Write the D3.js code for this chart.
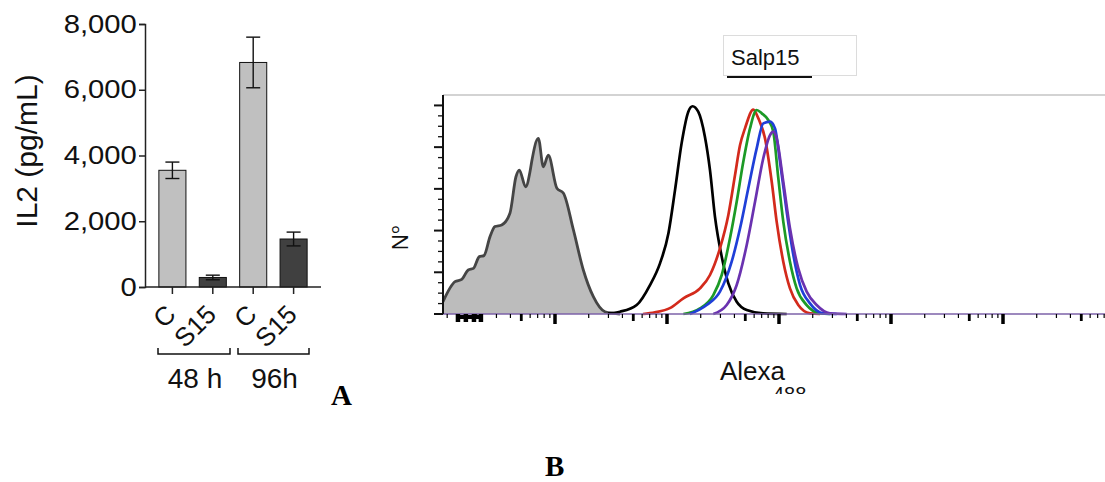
<!DOCTYPE html>
<html>
<head>
<meta charset="utf-8">
<script src="https://cdn.jsdelivr.net/npm/d3@7"></script>
<style>
  body { margin: 0; background: #fff; }
  svg { display: block; font-family: "Liberation Sans", Arial, sans-serif; }
</style>
</head>
<body>
<script>
// Panel A data
const barLabels = ["C", "S15", "C", "S15"];
const barMeans = [3550, 290, 6830, 1460];
const barErrs = [250, 70, 770, 210];
const barFills = ["#c0c0c0", "#404040", "#c0c0c0", "#404040"];
const groupLabels = ["48 h", "96h"];
const yTicksA = [0, 2000, 4000, 6000, 8000];

// Panel B data: [intensity, % of max]
const grayHist = [[1.0, 5.9], [1.28, 15.5], [1.47, 16.6], [1.68, 21.1], [1.87, 21.9], [2.11, 27.5],
  [2.32, 28.0], [2.63, 37.1], [2.91, 41.9], [3.34, 42.7], [3.96, 48.3], [4.48, 65.8], [4.80, 69.0],
  [5.47, 61.0], [5.98, 68.2], [6.19, 73.0], [7.10, 84.2], [7.87, 70.6], [8.71, 76.2], [10.4, 60.3],
  [11.9, 57.9], [14.6, 40.3], [17.9, 21.1], [22.0, 8.3], [27.9, 1.1], [33.2, 0.3], [38.0, 0]];
const blackHist = [[29.7, 0.3], [38, 1.1], [53.6, 4.3], [70.5, 13.9], [86.6, 24.3], [103, 38.7],
  [118, 59.5], [135, 81.8], [155, 97.0], [169, 99.6], [190, 97.0], [218, 85.0], [242, 69.0],
  [268, 46.7], [308, 27.5], [353, 14.7], [419, 5.9], [515, 1.9], [720, 0.3], [1172, 0]];
const redHist = [[61, 0], [78, 0.8], [106, 2.8], [140, 7.5], [197, 12.3], [242, 18.7], [297, 31.5],
  [353, 47.5], [405, 66.6], [449, 81.0], [497, 89.0], [590, 98.0], [654, 93.8], [750, 84.2],
  [861, 63.4], [953, 44.3], [1092, 25.1], [1253, 12.3], [1486, 4.3], [1891, 0.3], [2323, 0]];
const greenHist = [[140, 0], [197, 2.7], [259, 9.1], [308, 18.7], [365, 36.3], [419, 53.8],
  [480, 73.0], [551, 89.0], [632, 97.8], [701, 96.2], [802, 93.0], [889, 87.4], [986, 65.1],
  [1092, 44.3], [1253, 25.1], [1438, 12.3], [1766, 4.3], [2323, 0.3], [2852, 0]];
const blueHist = [[160, 0], [226, 4.3], [297, 10.7], [378, 25.1], [449, 41.1], [532, 60.3],
  [632, 79.4], [724, 91.4], [832, 92.2], [921, 89.0], [1021, 73.0], [1172, 49.0], [1343, 28.3],
  [1542, 13.9], [1891, 5.1], [2489, 0.3], [3275, 0]];
const purpleHist = [[259, 0], [341, 4.3], [419, 13.9], [515, 33.1], [611, 53.8], [724, 74.7],
  [832, 85.8], [889, 87.4], [953, 84.2], [1092, 63.4], [1253, 41.1], [1486, 21.9], [1766, 10.7],
  [2168, 4.3], [2852, 0.3], [4027, 0]];
const curveColors = ["#d32a1c", "#1c9a26", "#1f3fd8", "#6a32b0"];
const legendLabel = "Salp15";
const denseTicks = [1.09, 1.36, 1.6, 1.89, 2.18];

const svg = d3.select("body").append("svg")
  .attr("width", 1105).attr("height", 482);

// ---------- Panel A: bar chart ----------
const yA = d3.scaleLinear().domain([0, 8000]).range([287, 24]);
const xA = d3.scaleBand().domain(d3.range(4)).range([152, 314])
  .paddingInner(0.33).paddingOuter(0.17);

const gA = svg.append("g");

gA.selectAll("rect.bar").data(barMeans).enter().append("rect")
  .attr("class", "bar")
  .attr("x", (d, i) => xA(i))
  .attr("width", xA.bandwidth())
  .attr("y", d => yA(d))
  .attr("height", d => yA(0) - yA(d))
  .attr("fill", (d, i) => barFills[i])
  .attr("stroke", "#111").attr("stroke-width", 1);

// error bars
const err = gA.selectAll("g.err").data(barMeans).enter().append("g")
  .attr("class", "err")
  .attr("transform", (d, i) => `translate(${xA(i) + xA.bandwidth() / 2},0)`)
  .attr("stroke", "#111").attr("stroke-width", 1.4);
err.append("line").attr("y1", (d, i) => yA(d - barErrs[i])).attr("y2", (d, i) => yA(d + barErrs[i]));
err.append("line").attr("x1", -7).attr("x2", 7)
  .attr("y1", (d, i) => yA(d + barErrs[i])).attr("y2", (d, i) => yA(d + barErrs[i]));
err.append("line").attr("x1", -7).attr("x2", 7)
  .attr("y1", (d, i) => yA(d - barErrs[i])).attr("y2", (d, i) => yA(d - barErrs[i]));

// y axis
const yAxisA = gA.append("g").attr("transform", "translate(145,0)")
  .call(d3.axisLeft(yA).tickValues(yTicksA).tickFormat(d3.format(",")).tickSize(6).tickPadding(1));
yAxisA.select(".domain").attr("stroke", "#222").attr("stroke-width", 1.5);
yAxisA.selectAll(".tick line").attr("stroke", "#222").attr("stroke-width", 1.5);
yAxisA.selectAll(".tick text")
  .attr("font-size", 25).attr("fill", "#111")
  .attr("font-family", "Liberation Sans, Arial, sans-serif")
  .attr("transform", "scale(1.17,1)");

// x axis
const xAxisLine = gA.append("g").attr("stroke", "#222").attr("stroke-width", 1.5);
xAxisLine.append("line").attr("x1", 145).attr("x2", 321).attr("y1", yA(0)).attr("y2", yA(0));
xAxisLine.selectAll("line.tk").data(barLabels).enter().append("line")
  .attr("class", "tk")
  .attr("x1", (d, i) => xA(i) + xA.bandwidth() / 2)
  .attr("x2", (d, i) => xA(i) + xA.bandwidth() / 2)
  .attr("y1", yA(0)).attr("y2", yA(0) + 7);

gA.selectAll("text.xl").data(barLabels).enter().append("text")
  .attr("class", "xl")
  .attr("text-anchor", "end")
  .attr("font-size", 26).attr("fill", "#111")
  .attr("transform", (d, i) => `translate(${xA(i) + xA.bandwidth() / 2 + 5},316) rotate(-45)`)
  .text(d => d);

// group brackets
const brackets = [[158, 230], [238, 309]];
const br = gA.selectAll("g.br").data(brackets).enter().append("g")
  .attr("class", "br").attr("stroke", "#111").attr("stroke-width", 1.5).attr("fill", "none");
br.append("path").attr("d", d => `M${d[0]},348V354H${d[1]}V348`);
gA.selectAll("text.gl").data(groupLabels).enter().append("text")
  .attr("class", "gl")
  .attr("x", (d, i) => (brackets[i][0] + brackets[i][1]) / 2 + 1)
  .attr("y", 388)
  .attr("text-anchor", "middle")
  .attr("font-size", 28).attr("fill", "#111")
  .text(d => d);

// y label
gA.append("text")
  .attr("transform", "translate(37,151) rotate(-90)")
  .attr("text-anchor", "middle")
  .attr("font-size", 30).attr("fill", "#111")
  .text("IL2 (pg/mL)");

// panel letters
svg.append("text").attr("x", 331).attr("y", 405)
  .attr("font-family", "Liberation Serif, Times New Roman, serif")
  .attr("font-weight", "bold").attr("font-size", 29).text("A");
svg.append("text").attr("x", 545).attr("y", 476)
  .attr("font-family", "Liberation Serif, Times New Roman, serif")
  .attr("font-weight", "bold").attr("font-size", 29).text("B");

// ---------- Panel B: histograms ----------
const xB = d3.scaleLog().domain([1, 1e6]).range([443, 1115]);
const yB = d3.scaleLinear().domain([0, 105]).range([314, 95]);

const gB = svg.append("g");

// top frame line
gB.append("line").attr("x1", 443).attr("x2", 1105).attr("y1", 95).attr("y2", 95)
  .attr("stroke", "#c4c4c4").attr("stroke-width", 1.5);

const line = d3.line().x(d => xB(d[0])).y(d => yB(d[1])).curve(d3.curveMonotoneX);
const area = d3.area().x(d => xB(d[0])).y0(yB(0)).y1(d => yB(d[1])).curve(d3.curveMonotoneX);

gB.append("path").datum(grayHist).attr("d", area).attr("fill", "#bcbcbc");
gB.append("path").datum(grayHist).attr("d", line)
  .attr("fill", "none").attr("stroke", "#454545").attr("stroke-width", 2.8).attr("stroke-linejoin", "round");

gB.append("path").datum(blackHist).attr("d", line)
  .attr("fill", "none").attr("stroke", "#000").attr("stroke-width", 2.7);

[redHist, greenHist, blueHist, purpleHist].forEach((h, i) => {
  gB.append("path").datum(h).attr("d", line)
    .attr("fill", "none").attr("stroke", curveColors[i]).attr("stroke-width", 2.7);
});

// baseline
gB.append("line").attr("x1", 443).attr("x2", 1105).attr("y1", 314).attr("y2", 314)
  .attr("stroke", "#7d62a8").attr("stroke-width", 1.5);

// x ticks (log)
const logTicks = xB.ticks(60).filter(v => v < 1.2e6);
const tickKind = v => {
  const m = Math.round(v / Math.pow(10, Math.floor(Math.log10(v) + 1e-9)));
  return m === 1 ? 2 : (m === 5 ? 1 : 0);
};
gB.selectAll("line.xt").data(logTicks.filter(v => v > 1)).enter().append("line")
  .attr("class", "xt")
  .attr("x1", d => xB(d)).attr("x2", d => xB(d))
  .attr("y1", 314)
  .attr("y2", d => 314 + [4, 7, 10][tickKind(d)])
  .attr("stroke", "#000")
  .attr("stroke-width", d => [1.2, 2.8, 3.5][tickKind(d)]);
gB.selectAll("line.dt").data(denseTicks).enter().append("line")
  .attr("class", "dt")
  .attr("x1", d => xB(d)).attr("x2", d => xB(d))
  .attr("y1", 314).attr("y2", (d, i) => i === 0 ? 318 : 322)
  .attr("stroke", "#000").attr("stroke-width", (d, i) => i === 0 ? 1.2 : 4.5);
gB.append("line").attr("x1", xB(1.36)).attr("x2", xB(2.18)).attr("y1", 317).attr("y2", 317)
  .attr("stroke", "#000").attr("stroke-width", 4);

// y axis (no labels)
const yAxisB = gB.append("g").attr("transform", "translate(443,0)");
yAxisB.append("line").attr("y1", 95).attr("y2", 314).attr("stroke", "#111").attr("stroke-width", 2);
yAxisB.selectAll("line.yt").data(d3.range(0, 105, 5)).enter().append("line")
  .attr("class", "yt")
  .attr("x1", d => d % 20 === 0 ? -9 : -5).attr("x2", 0)
  .attr("y1", d => yB(d)).attr("y2", d => yB(d))
  .attr("stroke", "#111").attr("stroke-width", d => d % 20 === 0 ? 2 : 1.3);

// y label
gB.append("text")
  .attr("transform", "translate(408,238) rotate(-90)")
  .attr("text-anchor", "middle")
  .attr("font-family", "Open Sans, sans-serif")
  .attr("font-size", 22).attr("fill", "#111")
  .text("Nº");

// x label
gB.append("text").attr("x", 720).attr("y", 380)
  .attr("font-family", "Liberation Sans, sans-serif")
  .attr("font-size", 26).attr("fill", "#111")
  .text("Alexa");
svg.append("clipPath").attr("id", "cut").append("rect")
  .attr("x", 700).attr("y", 370).attr("width", 200).attr("height", 24);
gB.append("text").attr("x", 773).attr("y", 401)
  .attr("clip-path", "url(#cut)")
  .attr("font-family", "Liberation Sans, sans-serif")
  .attr("font-size", 20).attr("fill", "#111")
  .text("488");

// legend box
const leg = gB.append("g");
leg.append("rect").attr("x", 723.5).attr("y", 35.5).attr("width", 133).attr("height", 40)
  .attr("fill", "#fff").attr("stroke", "#dcdcdc");
leg.append("text").attr("x", 731).attr("y", 65)
  .attr("font-family", "Liberation Sans, sans-serif")
  .attr("font-size", 22).attr("fill", "#111")
  .text(legendLabel);
leg.append("line").attr("x1", 727).attr("x2", 812).attr("y1", 77).attr("y2", 77)
  .attr("stroke", "#111").attr("stroke-width", 2);
</script>
</body>
</html>
